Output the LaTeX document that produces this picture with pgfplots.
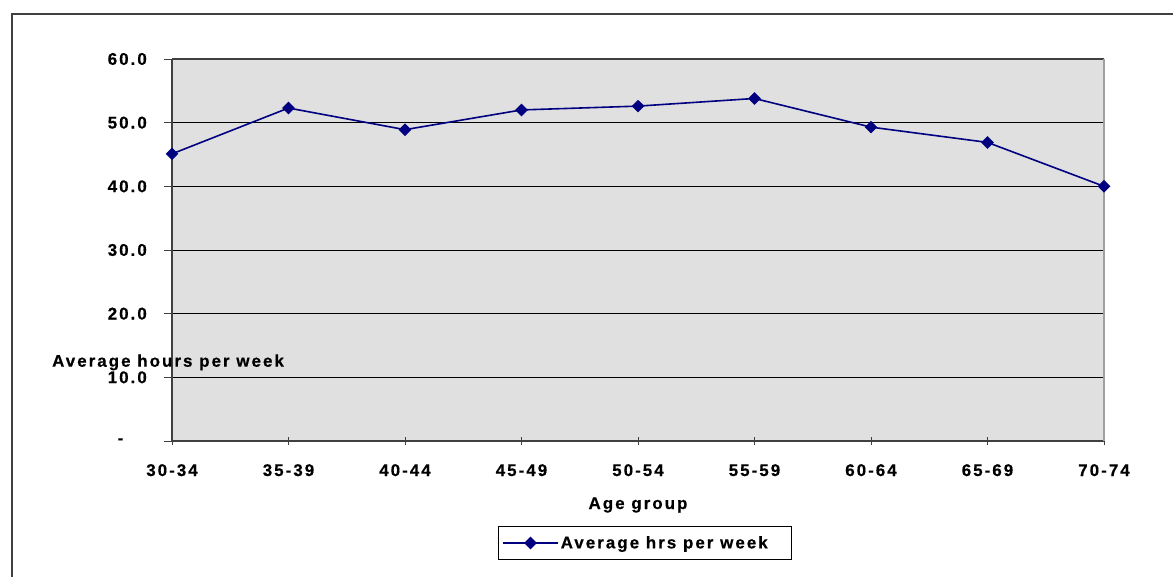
\documentclass[border=0pt]{standalone}
\usepackage{fontspec}
\usepackage{pgfplots}
\pgfplotsset{compat=1.18}
\newfontfamily\chartfont{Liberation Sans Bold}[LetterSpace=12, FakeBold=0.5]
\newcommand{\cf}{\chartfont\fontsize{17}{20}\selectfont}
\definecolor{plotbg}{RGB}{224,224,224}
\definecolor{navyline}{RGB}{0,0,128}
\definecolor{framegray}{RGB}{64,64,64}
\definecolor{edgegray}{RGB}{160,160,160}
\begin{document}
\begin{tikzpicture}
\useasboundingbox (0,0) rectangle (1173bp,-577bp);
% outer chart frame
\draw[framegray, line width=1.5bp] (12bp,-600bp) -- (12bp,-14bp) -- (1200bp,-14bp);
\begin{axis}[
  at={(172bp,-441bp)}, anchor=south west,
  scale only axis, width=932bp, height=382bp,
  xmin=0, xmax=8, ymin=0, ymax=60,
  clip=false,
  axis background/.style={fill=plotbg},
  axis x line*=bottom, axis y line*=left,
  axis line style={framegray, line width=1.2bp},
  /pgf/number format/assume math mode=true,
  xtick={0,...,8},
  xticklabels={30-34,35-39,40-44,45-49,50-54,55-59,60-64,65-69,70-74},
  ytick={0,10,...,60},
  yticklabels={{-\hspace*{23.5bp}},10.0,20.0,30.0,40.0,50.0,60.0},
  xtick align=center, ytick align=outside,
  major tick length=8bp,
  tick style={framegray, line width=1bp},
  ymajorgrids,
  major grid style={black, line width=0.9bp},
  xticklabel style={font=\cf, anchor=north, inner sep=0pt, yshift=-19bp},
  yticklabel style={font=\cf, anchor=east, inner sep=0pt, xshift=-17bp},
  xlabel={Age group},
  xlabel style={font=\cf, at={(rel axis cs:0.5,-0.178)}, anchor=base, inner sep=0pt},
  ylabel={Average hours per week},
  ylabel style={font=\cf, rotate=-90, at={(rel axis cs:-0.1288,0.1945)}, anchor=base west, inner sep=0pt},
  legend style={at={(rel axis cs:0.3495,-0.2217)}, anchor=north west,
    draw=black, line width=0.8bp, fill=white, font=\cf,
    inner xsep=4bp, inner ysep=8bp},
  legend cell align=left,
  legend image code/.code={
    \draw[#1, mark=none] (0bp,0bp) -- (55bp,0bp);
    \draw[#1, only marks] plot coordinates {(27.5bp,0bp)};
  },
]
\draw[framegray, line width=1.5bp] (rel axis cs:0,1) -- (rel axis cs:1,1);
\draw[edgegray, line width=1.5bp] (rel axis cs:1,1) -- (rel axis cs:1,0);
\addplot[navyline, line width=1.6bp, mark=square*, mark size=3.7bp,
  mark options={rotate=45, solid, fill=navyline}]
  coordinates {(0,45.1) (1,52.3) (2,48.9) (3,52.0) (4,52.6) (5,53.8) (6,49.3) (7,46.9) (8,40.0)};
\addlegendentry{Average hrs per week\hspace*{18bp}}
\end{axis}
\end{tikzpicture}
\end{document}
